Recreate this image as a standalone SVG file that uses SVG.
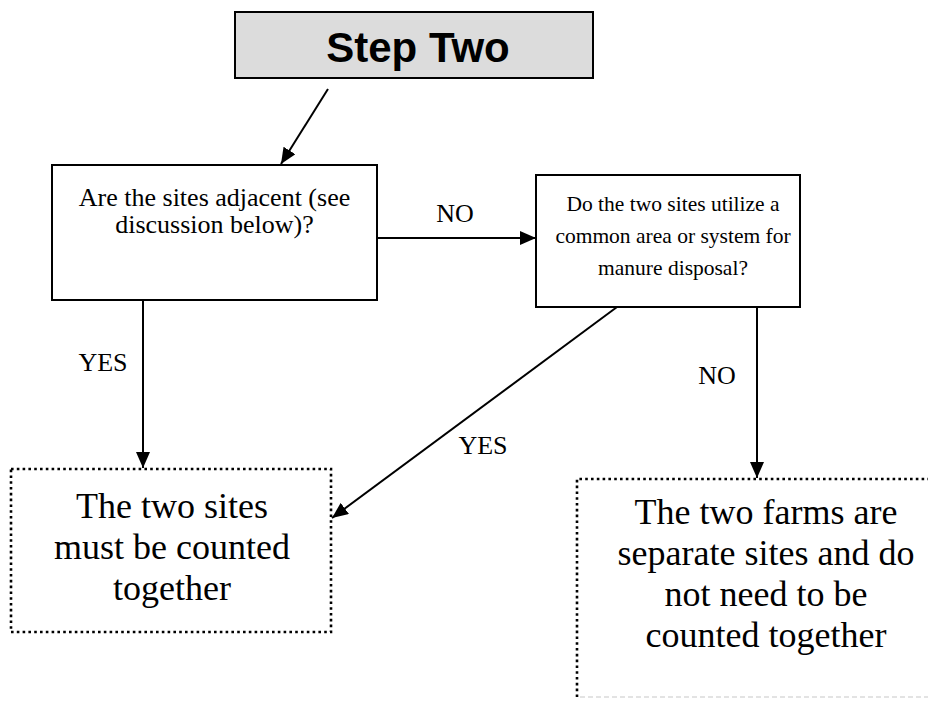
<svg xmlns="http://www.w3.org/2000/svg" width="934" height="702" viewBox="0 0 934 702">
  <style>
    .box { fill: #ffffff; stroke: #000000; stroke-width: 2; }
    .title { fill: #dcdcdc; stroke: #000000; stroke-width: 2; }
    .dot { fill: none; stroke: #000000; stroke-width: 2.6; stroke-dasharray: 2.6 3.2; }
    .gray { fill: none; stroke: #c8c8c8; stroke-width: 1.2; stroke-dasharray: 5 3; }
    .conn { stroke: #000000; stroke-width: 2; fill: none; }
    .serif { font-family: "Liberation Serif", "Times New Roman", serif; fill: #000000; text-anchor: middle; }
    .q1 { font-size: 26px; }
    .q2 { font-size: 21.5px; }
    .lab { font-size: 26px; }
    .big { font-size: 36px; }
    .head { font-family: "Liberation Sans", Arial, sans-serif; font-weight: bold; font-size: 42px; text-anchor: middle; fill: #000000; }
  </style>
  <defs>
    <marker id="arr" viewBox="0 0 16 14" refX="16" refY="7" markerWidth="16" markerHeight="14" markerUnits="userSpaceOnUse" orient="auto">
      <path d="M0,0 L16,7 L0,14 Z" fill="#000000"/>
    </marker>
  </defs>

  <g id="step-two">
    <rect class="title" x="235" y="12" width="358" height="66"/>
    <text class="head" x="418" y="62">Step Two</text>
  </g>

  <g id="adjacent">
    <rect class="box" x="52" y="165" width="325" height="135"/>
    <text class="serif q1" x="214.5" y="206">Are the sites adjacent (see</text>
    <text class="serif q1" x="214.5" y="233">discussion below)?</text>
  </g>

  <g id="common-area">
    <rect class="box" x="536" y="175" width="264" height="132"/>
    <text class="serif q2" x="673" y="211">Do the two sites utilize a</text>
    <text class="serif q2" x="673" y="243">common area or system for</text>
    <text class="serif q2" x="673" y="275">manure disposal?</text>
  </g>

  <g id="counted-together">
    <rect class="dot" x="11" y="469" width="320" height="163"/>
    <text class="serif big" x="172" y="518">The two sites</text>
    <text class="serif big" x="172" y="559">must be counted</text>
    <text class="serif big" x="172" y="600">together</text>
  </g>

  <g id="separate-sites">
    <path class="dot" d="M577,697 L577,479 L928,479"/>
    <path class="gray" d="M580,697 L928,697"/>
    <text class="serif big" x="766" y="524">The two farms are</text>
    <text class="serif big" x="766" y="565">separate sites and do</text>
    <text class="serif big" x="766" y="606">not need to be</text>
    <text class="serif big" x="766" y="647">counted together</text>
  </g>

  <g id="connectors">
    <line class="conn" x1="328" y1="89" x2="281" y2="164" marker-end="url(#arr)"/>
    <line class="conn" x1="377" y1="238" x2="536" y2="238" marker-end="url(#arr)"/>
    <line class="conn" x1="143" y1="300" x2="143" y2="468" marker-end="url(#arr)"/>
    <line class="conn" x1="617" y1="307" x2="332" y2="518" marker-end="url(#arr)"/>
    <line class="conn" x1="757" y1="307" x2="757" y2="478" marker-end="url(#arr)"/>
    <text class="serif lab" x="455" y="222">NO</text>
    <text class="serif lab" x="103" y="371">YES</text>
    <text class="serif lab" x="717" y="384">NO</text>
    <text class="serif lab" x="483" y="454">YES</text>
  </g>
</svg>
